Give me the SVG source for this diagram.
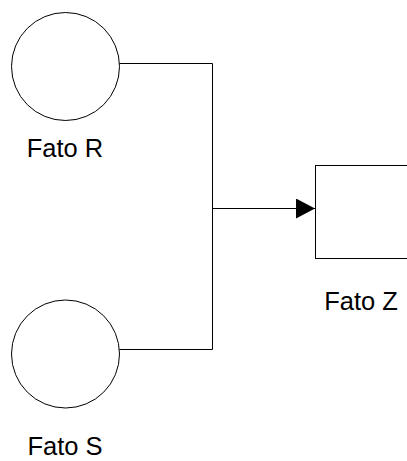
<svg xmlns="http://www.w3.org/2000/svg" width="407" height="461" viewBox="0 0 407 461">
<style>
.shape{fill:#fff;stroke:#000;stroke-width:1}
.conn{fill:none;stroke:#000;stroke-width:1}
.lbl{font-family:"Liberation Sans",Arial,sans-serif;font-size:25.5px;fill:#000;text-anchor:middle}
</style>
<defs>
<marker id="arr" markerWidth="20" markerHeight="20" refX="19" refY="10" orient="auto" markerUnits="userSpaceOnUse">
<path d="M0,0 L19,10 L0,20 Z" fill="#000"/>
</marker>
</defs>
<rect width="407" height="461" fill="#fff"/>
<g id="connectors">
<polyline class="conn" points="119,63.5 212.5,63.5 212.5,349.5 113,349.5"/>
<line class="conn" x1="212.5" y1="208.5" x2="315" y2="208.5" marker-end="url(#arr)"/>
</g>
<g id="fatoR">
<circle class="shape" cx="65.5" cy="66.5" r="54"/>
<text class="lbl" x="65" y="157">Fato R</text>
</g>
<g id="fatoS">
<circle class="shape" cx="65.5" cy="354" r="54"/>
<text class="lbl" x="65" y="455">Fato S</text>
</g>
<g id="fatoZ">
<rect class="shape" x="315.5" y="165.5" width="100" height="93"/>
<text class="lbl" x="361" y="310">Fato Z</text>
</g>
</svg>
